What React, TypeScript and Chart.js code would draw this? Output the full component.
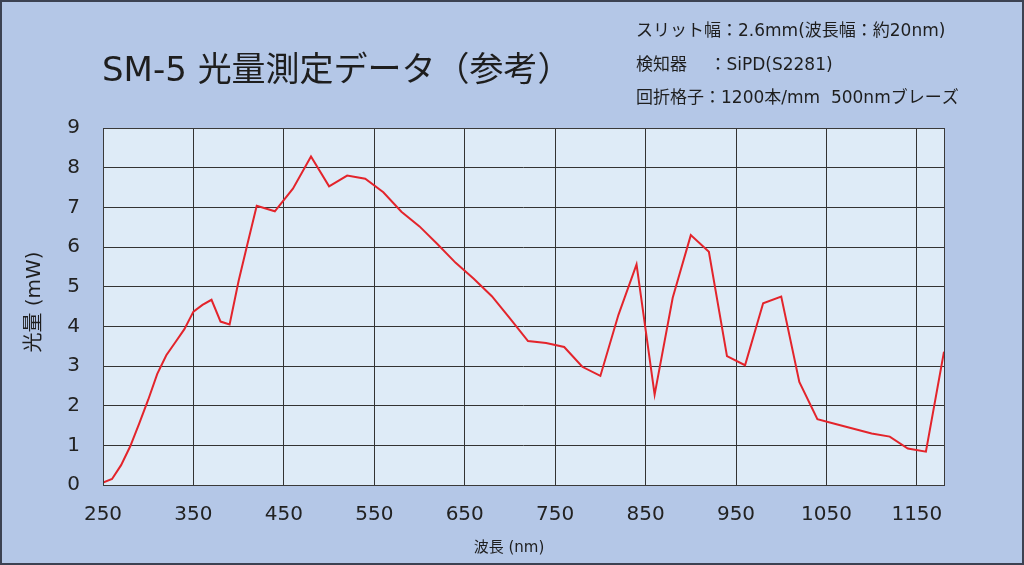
import React, { useEffect, useRef } from "react";
import { Chart, registerables } from "chart.js";

Chart.register(...registerables);

const wavelengths = [
  250, 260, 270, 280, 290, 300, 310, 320, 330, 340, 350, 360, 370, 380, 390,
  400, 410, 420, 440, 460, 480, 500, 520, 540, 560, 580, 600, 620, 640, 660,
  680, 700, 720, 740, 760, 780, 800, 820, 840, 860, 880, 900, 920, 940, 960,
  980, 1000, 1020, 1040, 1060, 1080, 1100, 1120, 1140, 1160, 1180,
];

const power = [
  0.06, 0.15, 0.5, 0.97, 1.55, 2.15, 2.8, 3.27, 3.6, 3.93, 4.37, 4.54, 4.67,
  4.12, 4.05, 5.15, 6.1, 7.04, 6.9, 7.47, 8.28, 7.53, 7.8, 7.72, 7.38, 6.89,
  6.52, 6.07, 5.6, 5.2, 4.76, 4.2, 3.63, 3.58, 3.48, 2.98, 2.75, 4.29, 5.56,
  2.28, 4.72, 6.3, 5.88, 3.25, 3.02, 4.58, 4.75, 2.6, 1.66, 1.54, 1.42, 1.3,
  1.22, 0.92, 0.84, 3.36,
];

const xTicks = [250, 350, 450, 550, 650, 750, 850, 950, 1050, 1150];

const titleText = "SM-5 光量測定データ（参考）";
const noteLines = [
  "スリット幅：2.6mm(波長幅：約20nm)",
  "検知器　 ：SiPD(S2281)",
  "回折格子：1200本/mm  500nmブレーズ",
];

const FONT = "'DejaVu Sans', 'Noto Sans CJK JP', sans-serif";

const decorPlugin = {
  id: "decor",
  beforeDraw(chart: any) {
    const { ctx, width, height, chartArea } = chart;
    ctx.save();
    ctx.fillStyle = "#b4c7e7";
    ctx.fillRect(0, 0, width, height);
    ctx.fillStyle = "#deebf7";
    ctx.fillRect(
      chartArea.left,
      chartArea.top,
      chartArea.right - chartArea.left,
      chartArea.bottom - chartArea.top
    );
    ctx.restore();
  },
  afterDraw(chart: any) {
    const { ctx, width, height, chartArea } = chart;
    ctx.save();
    // plot border
    ctx.strokeStyle = "#3a3a3a";
    ctx.lineWidth = 1;
    ctx.strokeRect(
      chartArea.left + 0.5,
      chartArea.top + 0.5,
      chartArea.right - chartArea.left,
      chartArea.bottom - chartArea.top
    );
    // outer border
    ctx.strokeStyle = "#3c4252";
    ctx.lineWidth = 2;
    ctx.strokeRect(1, 1, width - 2, height - 2);

    ctx.fillStyle = "#1e1e1e";
    ctx.textBaseline = "middle";
    ctx.textAlign = "left";
    ctx.font = `34px ${FONT}`;
    ctx.fillText(titleText, 102, 72);

    ctx.font = `17px ${FONT}`;
    noteLines.forEach((line, i) => {
      ctx.fillText(line, 636, 32 + i * 33.5);
    });

    ctx.textAlign = "center";
    ctx.font = `15px ${FONT}`;
    ctx.fillText("波長 (nm)", 509, 548);

    ctx.translate(35, 302);
    ctx.rotate(-Math.PI / 2);
    ctx.font = `20px ${FONT}`;
    ctx.fillText("光量 (mW)", 0, 0);
    ctx.restore();
  },
};

const App: React.FC = () => {
  const canvasRef = useRef<HTMLCanvasElement>(null);
  const chartInstance = useRef<Chart>();

  useEffect(() => {
    document.body.style.margin = "0";
    if (canvasRef && canvasRef.current) {
      const ctx = canvasRef.current.getContext("2d");
      if (ctx) {
        if (chartInstance.current) {
          chartInstance.current.destroy();
        }
        chartInstance.current = new Chart(ctx, {
          type: "line",
          data: {
            datasets: [
              {
                label: "光量",
                data: wavelengths.map((w, i) => ({ x: w, y: power[i] })),
                borderColor: "#e3242b",
                borderWidth: 2,
                pointRadius: 0,
                tension: 0,
                fill: false,
              },
            ],
          },
          options: {
            animation: false,
            responsive: true,
            maintainAspectRatio: false,
            layout: {
              padding: { top: 128, right: 80, left: 0, bottom: 0 },
            },
            plugins: {
              legend: { display: false },
              tooltip: { enabled: false },
            },
            scales: {
              x: {
                type: "linear",
                min: 250,
                max: 1180,
                afterBuildTicks: (scale: any) => {
                  scale.ticks = xTicks.map((v) => ({ value: v }));
                },
                afterFit: (scale: any) => {
                  scale.height = 80;
                },
                grid: {
                  color: "#333",
                  lineWidth: 1,
                  drawTicks: false,
                },
                border: { display: false },
                ticks: {
                  padding: 18,
                  color: "#222",
                  font: { family: FONT, size: 20 },
                  maxRotation: 0,
                  autoSkip: false,
                  callback: (v: any) => String(v),
                },
              },
              y: {
                min: 0,
                max: 9,
                afterFit: (scale: any) => {
                  scale.width = 103;
                },
                grid: {
                  color: "#333",
                  lineWidth: 1,
                  drawTicks: false,
                },
                border: { display: false },
                ticks: {
                  stepSize: 1,
                  padding: 23,
                  color: "#222",
                  font: { family: FONT, size: 20 },
                },
              },
            },
          },
          plugins: [decorPlugin],
        });
      }
    }

    return () => {
      if (chartInstance.current) {
        chartInstance.current.destroy();
      }
    };
  }, []);

  return (
    <div
      style={{
        position: "absolute",
        left: 0,
        top: 0,
        width: "1024px",
        height: "565px",
      }}
    >
      <canvas ref={canvasRef} style={{ width: "100%", height: "100%" }} />
    </div>
  );
};

export default App;
